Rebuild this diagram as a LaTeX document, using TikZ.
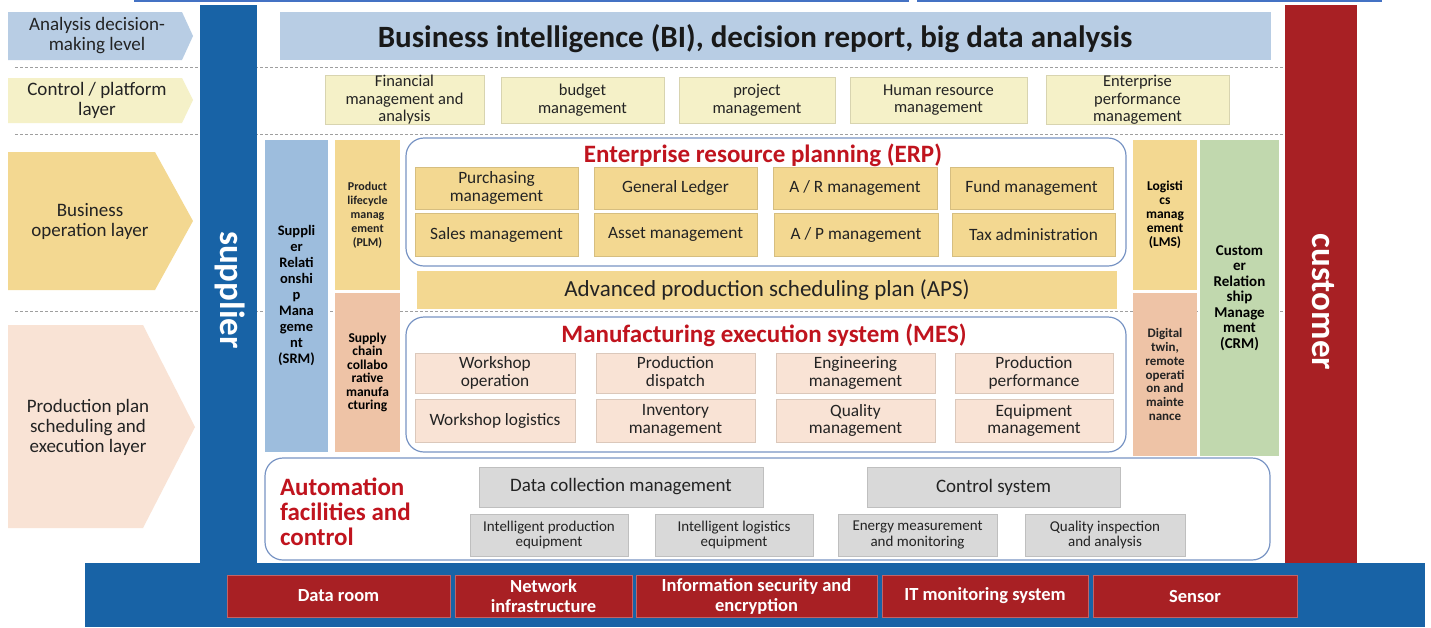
\documentclass[tikz,border=0pt]{standalone}
\usepackage{fontspec}
\setmainfont{Carlito}
\definecolor{dblue}{RGB}{24,99,166}
\definecolor{dred}{RGB}{168,32,36}
\definecolor{tred}{RGB}{192,20,30}
\definecolor{lblue}{RGB}{184,205,228}
\definecolor{lyel}{RGB}{245,241,200}
\definecolor{yel}{RGB}{243,216,145}
\definecolor{peach}{RGB}{249,227,213}
\definecolor{salmon}{RGB}{238,195,166}
\definecolor{srmblue}{RGB}{157,189,221}
\definecolor{crmgreen}{RGB}{193,216,174}
\definecolor{gbox}{RGB}{217,217,217}
\definecolor{framec}{RGB}{120,148,196}
\definecolor{txt}{RGB}{35,35,35}
\definecolor{topline}{RGB}{68,114,196}
\newcommand\bx[7]{%
  \pgfmathsetmacro\myw{#4-#2}%
  \pgfmathsetmacro\myh{#5-#3}%
  \node[#6, minimum width=\myw pt, minimum height=\myh pt] (#1) at ({(#2+#4)/2},{(#3+#5)/2}) {#7};}
\tikzset{
  base/.style={inner sep=0pt, outer sep=0pt, align=center, text=txt},
  box/.style={base, fill=#1, draw=#1!88!black, line width=0.6pt},
  plain/.style={base, fill=#1},
  fctl/.style={font=\fontsize{16.5}{17.5}\selectfont},
  flab/.style={font=\fontsize{19}{20}\selectfont},
  fbox/.style={font=\fontsize{17.3}{17.5}\selectfont},
  ftitle/.style={font=\fontsize{25}{25}\selectfont\bfseries, text=tred},
  fgray/.style={font=\fontsize{19}{20}\selectfont},
  fsmall/.style={font=\fontsize{15}{15.5}\selectfont},
  fred/.style={font=\fontsize{18.5}{20}\selectfont\bfseries, text=white},
  fside/.style={font=\fontsize{35}{40}\selectfont\bfseries, text=white, rotate=-90},
  dashline/.style={draw=gray!75, dash pattern=on 3pt off 2pt, line width=0.9pt},
  framebox/.style={draw=framec, line width=1.2pt, rounded corners=18pt},
  redbox/.style={base, fill=dred, draw=dred!70!white, line width=0.8pt, fred},
}
\begin{document}
\begin{tikzpicture}[x=1pt,y=-1pt]
\useasboundingbox (0,0) rectangle (1431,627);
\fill[white] (0,0) rectangle (1431,627);
% top thin line
\fill[topline] (134,0) rectangle (909,2);
\fill[topline] (917,0) rectangle (1382,2);
% dashed separators
\coordinate (d1a) at (15,67);  \coordinate (d1b) at (1285,67);
\coordinate (d2a) at (15,134); \coordinate (d2b) at (1285,134);
\coordinate (d3a) at (15,311); \coordinate (d3b) at (1285,311);
\draw[dashline] (d1a) -- (d1b);
\draw[dashline] (d2a) -- (d2b);
\draw[dashline] (d3a) -- (d3b);
% left layer labels
\fill[lblue] (8,12) -- (182,12) -- (193,36) -- (182,60) -- (8,60) -- cycle;
\node[base, flab] (lab1) at (97,36) {Analysis decision-\\making level};
\fill[lyel] (8,78) -- (182,78) -- (193,100) -- (182,123) -- (8,123) -- cycle;
\node[base, flab] (lab2) at (97,100) {Control / platform\\layer};
\fill[yel] (8,152) -- (155,152) -- (193,221) -- (155,290) -- (8,290) -- cycle;
\node[base, flab] (lab3) at (90,221) {Business\\operation layer};
\fill[peach] (8,325) -- (143,325) -- (195,427) -- (143,528) -- (8,528) -- cycle;
\node[base, flab] (lab4) at (88,427) {Production plan\\scheduling and\\execution layer};
% BI
\bx{bi}{280}{12}{1271}{60}{plain=lblue}{}
\node[base, font=\fontsize{31}{34}\selectfont\bfseries, text=black!90] (bit) at (755,39) {Business intelligence (BI), decision report, big data analysis};
% control layer
\bx{fin}{325}{77}{484}{123}{box=lyel, fctl}{Financial\\management and\\analysis}
\bx{bud}{501}{77}{664}{123}{box=lyel, fctl}{budget\\management}
\bx{prj}{679}{77}{835}{123}{box=lyel, fctl}{project\\management}
\bx{hrm}{850}{77}{1027}{123}{box=lyel, fctl}{Human resource\\management}
\bx{epm}{1046}{77}{1229}{123}{box=lyel, fctl}{Enterprise\\performance\\management}
% side columns
\bx{srm}{265}{140}{328}{452}{plain=srmblue, font=\fontsize{14.5}{16}\selectfont\bfseries, text=black}{Suppli\\er\\Relati\\onshi\\p\\Mana\\geme\\nt\\(SRM)}
\bx{plm}{335}{140}{400}{290}{plain=yel, font=\fontsize{12}{14}\selectfont\bfseries}{Product\\lifecycle\\manag\\ement\\(PLM)}
\bx{scm}{335}{293}{400}{452}{plain=salmon, font=\fontsize{13.5}{13.5}\selectfont\bfseries, text=black}{Supply\\chain\\collabo\\rative\\manufa\\cturing}
\bx{lms}{1133}{140}{1197}{290}{plain=yel, font=\fontsize{13.5}{14}\selectfont\bfseries, text=black}{Logisti\\cs\\manag\\ement\\(LMS)}
\bx{dtw}{1133}{293}{1197}{456}{plain=salmon, font=\fontsize{13}{13.7}\selectfont\bfseries}{Digital\\twin,\\remote\\operati\\on and\\mainte\\nance}
\bx{crm}{1200}{140}{1279}{456}{plain=crmgreen, font=\fontsize{15}{15.5}\selectfont\bfseries, text=black}{Custom\\er\\Relation\\ship\\Manage\\ment\\(CRM)}
% ERP
\draw[framebox] (406,138) rectangle (1126,266);
\node[base, ftitle] (erpt) at (763,155) {Enterprise resource planning (ERP)};
\bx{pur}{415}{167}{578}{209}{box=yel, fbox}{Purchasing\\management}
\bx{gl}{594}{167}{757}{209}{box=yel, fbox}{General Ledger}
\bx{ar}{773}{167}{937}{209}{box=yel, fbox}{A / R management}
\bx{fund}{950}{167}{1113}{209}{box=yel, fbox}{Fund management}
\bx{sal}{415}{213}{578}{256}{box=yel, fbox}{Sales management}
\bx{ast}{594}{213}{757}{256}{box=yel, fbox}{Asset management}
\bx{ap}{774}{213}{938}{256}{box=yel, fbox}{A / P management}
\bx{tax}{952}{213}{1115}{256}{box=yel, fbox}{Tax administration}
% APS
\bx{aps}{417}{271}{1117}{309}{plain=yel, font=\fontsize{23}{24}\selectfont}{Advanced production scheduling plan (APS)}
% MES
\draw[framebox] (406,317) rectangle (1126,452);
\node[base, ftitle] (mest) at (764,335) {Manufacturing execution system (MES)};
\bx{wop}{415}{353}{575}{393}{box=peach, fbox}{Workshop\\operation}
\bx{pdis}{596}{353}{755}{393}{box=peach, fbox}{Production\\dispatch}
\bx{eng}{776}{353}{935}{393}{box=peach, fbox}{Engineering\\management}
\bx{perf}{955}{353}{1113}{393}{box=peach, fbox}{Production\\performance}
\bx{wlog}{415}{399}{575}{442}{box=peach, fbox}{Workshop logistics}
\bx{inv}{596}{399}{755}{442}{box=peach, fbox}{Inventory\\management}
\bx{qual}{776}{399}{935}{442}{box=peach, fbox}{Quality\\management}
\bx{equ}{955}{399}{1113}{442}{box=peach, fbox}{Equipment\\management}
% Automation
\draw[framebox] (265,458) rectangle (1270,560);
\node[base, ftitle, align=left, anchor=west] (autt) at (280,512) {Automation\\facilities and\\control};
\bx{dcm}{479}{467}{763}{507}{box=gbox, fgray}{Data collection management}
\bx{ctl}{867}{467}{1120}{507}{box=gbox, fgray}{Control system}
\bx{ipe}{470}{514}{628}{556}{box=gbox, fsmall}{Intelligent production\\equipment}
\bx{ile}{655}{514}{813}{556}{box=gbox, fsmall}{Intelligent logistics\\equipment}
\bx{emm}{838}{514}{997}{556}{box=gbox, fsmall}{Energy measurement\\and monitoring}
\bx{qia}{1025}{514}{1185}{556}{box=gbox, fsmall}{Quality inspection\\and analysis}
% supplier / customer columns and base
\fill[dblue] (200,5) rectangle (257,565);
\fill[dred] (1285,5) rectangle (1357,563);
\fill[dblue] (85,563) rectangle (1425,627);
\node[base, fside] (sup) at (230,290) {supplier};
\node[base, fside] (cus) at (1323,302) {customer};
% bottom red boxes
\bx{drm}{227}{575}{450}{617}{redbox}{Data room}
\bx{net}{455}{575}{632}{617}{redbox}{Network\\infrastructure}
\bx{sec}{636}{575}{877}{617}{redbox}{Information security and\\encryption}
\bx{itm}{882}{575}{1088}{617}{redbox}{IT monitoring system}
\bx{sen}{1093}{575}{1297}{617}{redbox}{Sensor}
\end{tikzpicture}
\end{document}
